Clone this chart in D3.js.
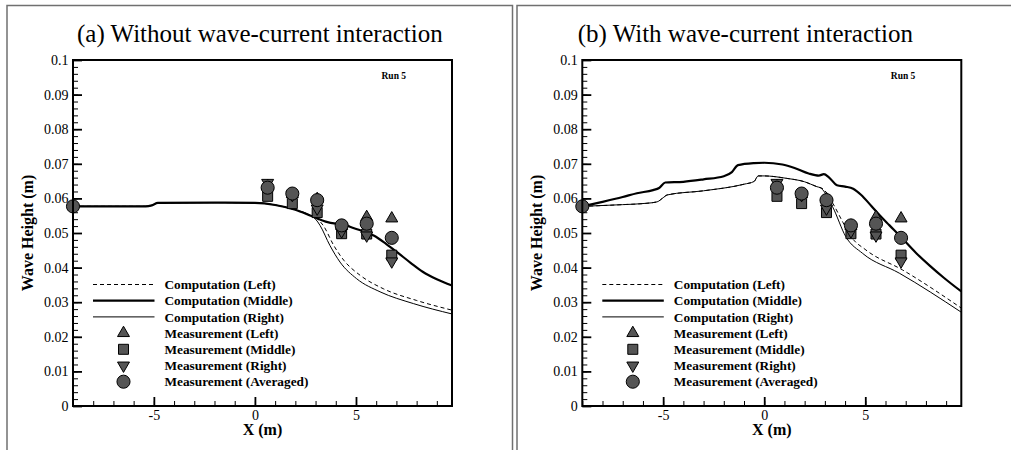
<!DOCTYPE html>
<html>
<head>
<meta charset="utf-8">
<script src="https://cdn.jsdelivr.net/npm/d3@7"></script>
<style>
  body { margin: 0; background: #fff; }
  text { font-family: "Liberation Serif", "Times New Roman", serif; }
</style>
</head>
<body>
<div id="chart"></div>
<script>
// Measurements (same in both panels)
var measX      = [-9, 0.63, 1.85, 3.08, 4.29, 5.53, 6.77];
var measLeft   = [null, 0.0636, 0.0612, 0.0598, 0.0520, 0.0546, 0.0542];
var measMiddle = [null, 0.0606, 0.0585, 0.0559, 0.0498, 0.0497, 0.0436];
var measRight  = [null, 0.0645, 0.0610, 0.0571, 0.0505, 0.0493, 0.0418];
var measAvg    = [0.0577, 0.0631, 0.0614, 0.0595, 0.0522, 0.0527, 0.0486];

// (a) computations without wave-current interaction
var compMidA = [[-9,0.0577],[-5.4,0.0577],[-5.1,0.0580],[-4.8,0.0587],[-2,0.0588],[0,0.0587],[1,0.0581],
  [2,0.0567],[2.8,0.0549],[3.5,0.0533],[4.0,0.0527],[4.4,0.0525],[4.7,0.0518],[5.3,0.0506],[5.9,0.0492],
  [6.5,0.0468],[7.0,0.0446],[7.7,0.0414],[8.3,0.0388],[9.0,0.0366],[9.75,0.0348]];
var compLeftA = [[-9,0.0577],[-5.4,0.0577],[-5.1,0.0580],[-4.8,0.0587],[-2,0.0588],[0,0.0587],[1,0.0581],
  [2,0.0567],[2.8,0.0549],[3.1,0.0540],[3.4,0.0520],[3.9,0.0464],[4.4,0.0421],[5.2,0.0378],[6.35,0.0339],
  [8.0,0.0305],[9.75,0.0277]];
var compRightA = [[-9,0.0577],[-5.4,0.0577],[-5.1,0.0580],[-4.8,0.0587],[-2,0.0588],[0,0.0587],[1,0.0581],
  [2,0.0567],[2.8,0.0549],[3.0,0.0540],[3.22,0.0522],[3.71,0.0464],[4.21,0.0416],[5.03,0.0368],[6.19,0.0330],
  [7.84,0.0296],[9.75,0.0266]];

// (b) computations with wave-current interaction
var compMidB = [[-9,0.0577],[-8,0.0590],[-7,0.0604],[-6.3,0.0615],[-5.5,0.0624],[-5.2,0.0630],[-4.9,0.0646],
  [-4,0.0648],[-3,0.0655],[-2,0.0664],[-1.6,0.0676],[-1.3,0.0696],[-0.5,0.0702],[0,0.0703],[0.9,0.0698],
  [1.5,0.0688],[2.2,0.0672],[2.7,0.0666],[2.95,0.0670],[3.2,0.0661],[3.6,0.0638],[4.0,0.0634],[4.4,0.0628],
  [4.8,0.0610],[5.3,0.0578],[5.7,0.0552],[6.2,0.0522],[6.77,0.0488],[7.5,0.0443],[8.2,0.0405],[8.9,0.0370],
  [9.75,0.0331]];
var compLeftB = [[-9,0.0577],[-7,0.0582],[-5.8,0.0586],[-5.3,0.0590],[-5.0,0.0602],[-4.8,0.0610],[-3,0.0622],
  [-1,0.0641],[-0.5,0.0649],[-0.3,0.0665],[0,0.0665],[1.1,0.0658],[2,0.0648],[2.6,0.0634],[2.9,0.0628],
  [3.4,0.0585],[3.9,0.0530],[4.3,0.0489],[5.03,0.0451],[6.85,0.0393],[9.75,0.0283]];
var compRightB = [[-9,0.0577],[-7,0.0582],[-5.8,0.0586],[-5.3,0.0590],[-5.0,0.0602],[-4.8,0.0610],[-3,0.0622],
  [-1,0.0641],[-0.5,0.0649],[-0.3,0.0665],[0,0.0665],[1.1,0.0658],[2,0.0648],[2.6,0.0634],[2.8,0.0630],
  [3.38,0.0576],[4.04,0.0489],[4.87,0.0441],[6.68,0.0384],[9.75,0.0271]];

var titles = ["(a) Without wave-current interaction", "(b) With wave-current interaction"];
var legendLabels = ["Computation (Left)", "Computation (Middle)", "Computation (Right)",
  "Measurement (Left)", "Measurement (Middle)", "Measurement (Right)", "Measurement (Averaged)"];
var xMajor = [-5, 0, 5];
var yMajor = [0, 0.01, 0.02, 0.03, 0.04, 0.05, 0.06, 0.07, 0.08, 0.09, 0.1];

var svgWidth = 1011, svgHeight = 450;
var chartWidth = 379, chartHeight = 346;

var svg = d3.select("#chart").append("svg")
  .attr("width", svgWidth)
  .attr("height", svgHeight);

// page frames around each panel
svg.append("rect").attr("x", 7).attr("y", 5.5).attr("width", 505.5).attr("height", 500)
  .attr("fill", "none").attr("stroke", "#707070").attr("stroke-width", 1.5);
svg.append("rect").attr("x", 517).attr("y", 5.5).attr("width", 600).attr("height", 500)
  .attr("fill", "none").attr("stroke", "#707070").attr("stroke-width", 1.5);

var x = d3.scaleLinear().domain([-9, 9.75]).range([0, chartWidth]);
var y = d3.scaleLinear().domain([0, 0.1]).range([chartHeight, 0]);

var line = d3.line().x(d => x(d[0])).y(d => y(d[1])).curve(d3.curveMonotoneX);

var markerFill = "#555555";
var upTri = d3.symbol().type(d3.symbolTriangle).size(62)();
var square = d3.symbol().type(d3.symbolSquare).size(100)();
var circle = d3.symbol().type(d3.symbolCircle).size(135)();

function drawPanel(left, title, titleX, series) {
  svg.append("text")
    .attr("x", titleX).attr("y", 42)
    .attr("font-size", 25)
    .text(title);

  var g = svg.append("g").attr("transform", `translate(${left}, 60)`);

  // minor ticks
  g.append("g")
    .attr("transform", `translate(0, ${chartHeight})`)
    .call(d3.axisBottom(x).tickValues(d3.range(-9, 10, 1)).tickSize(-5).tickFormat(""))
    .call(a => a.select(".domain").remove())
    .call(a => a.selectAll("line").attr("stroke-width", 1));
  g.append("g")
    .call(d3.axisLeft(y).tickValues(d3.range(0, 101, 2).map(v => v / 1000)).tickSize(-5).tickFormat(""))
    .call(a => a.select(".domain").remove())
    .call(a => a.selectAll("line").attr("stroke-width", 1));

  // major ticks
  g.append("g")
    .attr("transform", `translate(0, ${chartHeight})`)
    .call(d3.axisBottom(x).tickValues(xMajor).tickSize(-9).tickPadding(4).tickFormat(d => String(d)))
    .call(a => a.select(".domain").remove())
    .call(a => a.selectAll("line").attr("stroke-width", 1.8))
    .call(a => a.selectAll("text").attr("font-size", 14).attr("font-family", "Liberation Serif").attr("fill", "#000"));
  g.append("g")
    .call(d3.axisLeft(y).tickValues(yMajor).tickSize(-9).tickPadding(4.5).tickFormat(d => String(+d.toFixed(2))))
    .call(a => a.select(".domain").remove())
    .call(a => a.selectAll("line").attr("stroke-width", 1.8))
    .call(a => a.selectAll("text").attr("font-size", 14).attr("font-family", "Liberation Serif").attr("fill", "#000"));

  // curves
  g.append("path").datum(series.left).attr("d", line)
    .attr("fill", "none").attr("stroke", "#000").attr("stroke-width", 1).attr("stroke-dasharray", "4,3");
  g.append("path").datum(series.right).attr("d", line)
    .attr("fill", "none").attr("stroke", "#000").attr("stroke-width", 1);
  g.append("path").datum(series.mid).attr("d", line)
    .attr("fill", "none").attr("stroke", "#000").attr("stroke-width", 2.2);

  // measurements
  var sets = [
    { vals: measLeft, path: upTri, rot: 0 },
    { vals: measMiddle, path: square, rot: 0 },
    { vals: measRight, path: upTri, rot: 180 },
    { vals: measAvg, path: circle, rot: 0 }
  ];
  sets.forEach(function(s) {
    var pts = measX.map((xv, i) => [xv, s.vals[i]]).filter(p => p[1] != null);
    g.selectAll(null).data(pts).enter().append("path")
      .attr("d", s.path)
      .attr("transform", d => `translate(${x(d[0])}, ${y(d[1])}) rotate(${s.rot})`)
      .attr("fill", markerFill).attr("stroke", "#000").attr("stroke-width", 1);
  });

  // frame
  g.append("rect").attr("width", chartWidth).attr("height", chartHeight)
    .attr("fill", "none").attr("stroke", "#000").attr("stroke-width", 2);

  g.append("text").attr("x", 308.5).attr("y", 19)
    .attr("font-size", 9.5).attr("font-weight", "bold").text("Run 5");

  // legend
  var legend = g.append("g");
  legendLabels.forEach(function(lbl, i) {
    var ly = 224.5 + i * 16.2;
    if (i < 3) {
      legend.append("line").attr("x1", 20).attr("x2", 81.5).attr("y1", ly).attr("y2", ly)
        .attr("stroke", "#000")
        .attr("stroke-width", i === 1 ? 2.2 : 1)
        .attr("stroke-dasharray", i === 0 ? "4,3" : null);
    } else {
      var s = sets[i - 3];
      legend.append("path").attr("d", s.path)
        .attr("transform", `translate(50.5, ${ly}) rotate(${s.rot})`)
        .attr("fill", markerFill).attr("stroke", "#000").attr("stroke-width", 1);
    }
    legend.append("text").attr("x", 91.5).attr("y", ly).attr("dy", "0.35em")
      .attr("font-size", 13.3).attr("font-weight", "bold").text(lbl);
  });

  // axis labels
  g.append("text")
    .attr("transform", `translate(-40, ${chartHeight / 2}) rotate(-90)`)
    .attr("text-anchor", "middle")
    .attr("font-size", 16).attr("font-weight", "bold")
    .text("Wave Height (m)");
  g.append("text")
    .attr("x", chartWidth / 2).attr("y", chartHeight + 29)
    .attr("text-anchor", "middle")
    .attr("font-size", 16).attr("font-weight", "bold")
    .text("X (m)");
}

drawPanel(73, titles[0], 77, { left: compLeftA, mid: compMidA, right: compRightA });
drawPanel(582.3, titles[1], 577.7, { left: compLeftB, mid: compMidB, right: compRightB });
</script>
</body>
</html>
